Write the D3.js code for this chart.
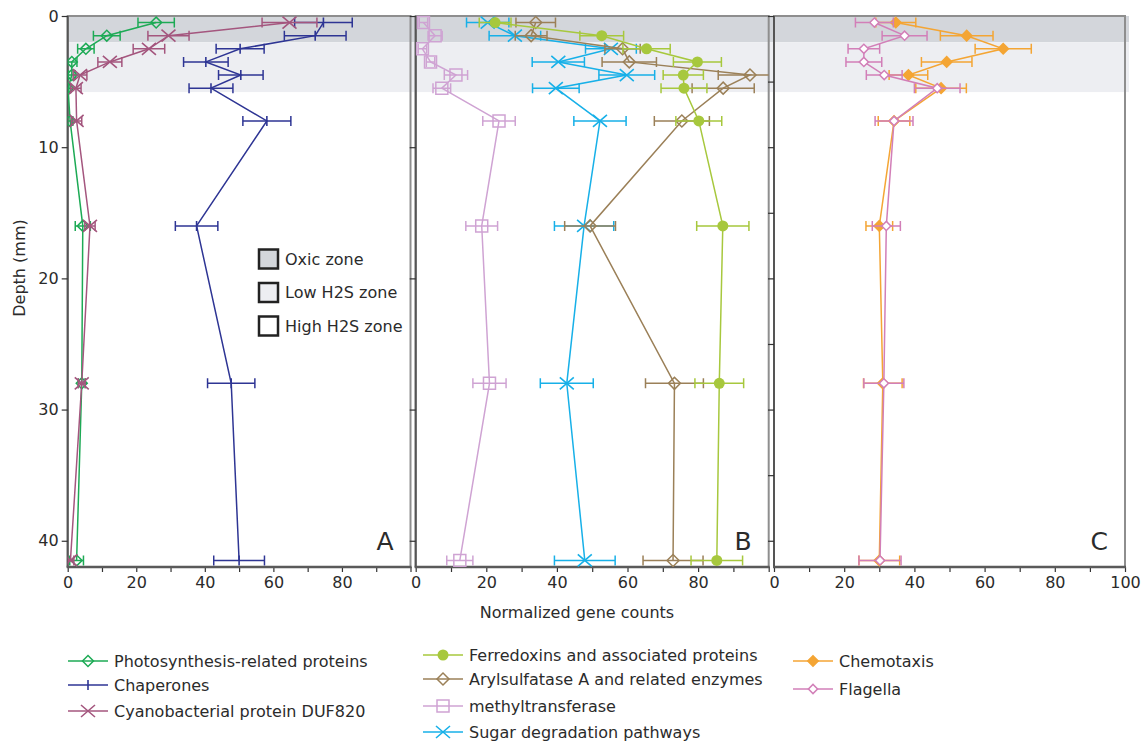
<!DOCTYPE html>
<html>
<head>
<meta charset="utf-8">
<style>
  body { margin: 0; background: #fff; }
  svg text { font-family: 'DejaVu Sans', Verdana, sans-serif; fill: #2b2b2b; }
</style>
</head>
<body>
<svg width="1142" height="748"></svg>
<script src="https://cdn.jsdelivr.net/npm/d3@7"></script>
<script>
// depth of each sample (mm)
const depths = [0.5, 1.5, 2.5, 3.5, 4.5, 5.5, 8, 16, 28, 41.5];

// panel A
const photoVals = [25.8, 11.4, 5.3, 1.2, 1.2, 0.1, 0.7, 4.4, 4.1, 2.6];
const photoErr  = [5.3, 3.9, 2.4, 1.5, 1.0, 0.6, 0.8, 2.2, 1.0, 2.0];
const chapVals  = [74.6, 72.2, 50.3, 40.3, 50.5, 41.8, 58.1, 37.6, 47.7, 50.0];
const chapErr   = [8.4, 9.0, 7.0, 6.5, 6.5, 6.4, 7.0, 6.2, 6.9, 7.4];
const dufVals   = [64.7, 29.4, 23.7, 12.3, 3.6, 2.4, 2.6, 6.5, 4.1, 0.8];
const dufErr    = [8.0, 6.0, 4.6, 3.5, 2.0, 1.5, 1.5, 1.5, 1.0, 1.0];

// panel B
const ferVals   = [22.5, 52.7, 65.4, 79.8, 75.8, 76.0, 80.2, 87.0, 86.0, 85.3];
const ferErr    = [4.5, 6.2, 6.7, 6.8, 5.7, 6.5, 6.5, 7.4, 6.9, 7.3];
const arylVals  = [34.0, 32.7, 58.6, 60.5, 94.7, 87.1, 75.4, 49.4, 73.3, 72.9];
const arylErr   = [5.6, 4.5, 5.0, 7.7, 9.0, 8.8, 7.8, 7.2, 8.2, 8.5];
const methVals  = [2.2, 5.5, 1.9, 4.2, 11.4, 7.4, 23.6, 18.7, 20.9, 12.5];
const methErr   = [1.2, 2.0, 1.2, 1.2, 3.3, 2.5, 4.6, 4.5, 4.7, 3.7];
const sugarVals = [20.4, 28.1, 55.3, 40.4, 59.8, 39.7, 52.2, 47.7, 42.8, 47.9];
const sugarErr  = [6.0, 7.3, 7.2, 7.4, 7.9, 6.6, 7.4, 8.4, 7.5, 8.6];

// panel C
const chemoVals = [34.7, 54.9, 65.3, 49.2, 38.3, 47.6, 34.2, 30.0, 31.0, 30.0];
const chemoErr  = [5.7, 7.5, 8.0, 7.2, 5.5, 7.2, 4.5, 3.8, 5.5, 5.8];
const flagVals  = [28.6, 37.2, 25.6, 25.6, 31.4, 46.5, 34.2, 32.0, 31.3, 30.2];
const flagErr   = [5.4, 6.4, 4.5, 5.1, 5.1, 6.5, 5.4, 4.0, 5.7, 6.0];

// zones (mm)
const zoneNames = ["Oxic zone", "Low H2S zone", "High H2S zone"];
const zoneEdges = [0, 2, 5.8];

const panels = [
  {key: "A", x0: 67.7, x1: 410.5, labels: [0, 20, 40, 60, 80], yTicks: [0, 10, 20, 30, 40]},
  {key: "B", x0: 415.7, x1: 768.7, labels: [0, 20, 40, 60, 80], yTicks: [0, 10, 20, 30, 40]},
  {key: "C", x0: 774, x1: 1125, labels: [0, 20, 40, 60, 80, 100], yTicks: [0, 5, 10, 15, 20, 25, 30, 35, 40]}
];

const series = [
  {name: "Photosynthesis-related proteins", panel: 0, vals: photoVals, err: photoErr, color: "#1daa55", mark: "diamond", size: 60, fill: "none"},
  {name: "Chaperones", panel: 0, vals: chapVals, err: chapErr, color: "#2e3594", mark: "plus"},
  {name: "Cyanobacterial protein DUF820", panel: 0, vals: dufVals, err: dufErr, color: "#a4567e", mark: "x"},
  {name: "methyltransferase", panel: 1, vals: methVals, err: methErr, color: "#cfa3d3", mark: "square", size: 144, fill: "none"},
  {name: "Sugar degradation pathways", panel: 1, vals: sugarVals, err: sugarErr, color: "#17b0e8", mark: "x"},
  {name: "Arylsulfatase A and related enzymes", panel: 1, vals: arylVals, err: arylErr, color: "#9b8058", mark: "diamond", size: 72, fill: "none"},
  {name: "Ferredoxins and associated proteins", panel: 1, vals: ferVals, err: ferErr, color: "#a7c83d", mark: "circle", size: 95},
  {name: "Chemotaxis", panel: 2, vals: chemoVals, err: chemoErr, color: "#f4a534", mark: "diamond", size: 55, fill: "fill"},
  {name: "Flagella", panel: 2, vals: flagVals, err: flagErr, color: "#d27fb8", mark: "diamond", size: 42, fill: "#fff"}
];

// legend columns (series indices per column)
const legendCols = [
  {x: 68, rows: [661, 685, 711], items: [0, 1, 2]},
  {x: 423, rows: [655, 679, 706, 732], items: [6, 5, 3, 4]},
  {x: 793, rows: [661, 689], items: [7, 8]}
];

const FS = 16;
const svg = d3.select("svg");
const y = d3.scaleLinear().domain([0, 42]).range([16, 567]);
panels.forEach(p => { p.x = d3.scaleLinear().domain([0, 100]).range([p.x0, p.x1]); });

// zone bands
const bandColors = ["#d3d6db", "#edeef2"];
svg.append("g").selectAll("rect")
  .data([0, 1]).enter().append("rect")
  .attr("x", panels[0].x0).attr("width", 1129 - panels[0].x0)
  .attr("y", i => y(zoneEdges[i]))
  .attr("height", i => y(zoneEdges[i + 1]) - y(zoneEdges[i]))
  .attr("fill", i => bandColors[i]);

// frames, axes
panels.forEach((p, i) => {
  const g = svg.append("g");
  g.append("rect")
    .attr("x", p.x0).attr("y", y(0)).attr("width", p.x1 - p.x0).attr("height", y(42) - y(0))
    .attr("fill", "none").attr("stroke", "#8e8e8e").attr("stroke-width", 2);
  g.append("line").attr("x1", p.x0).attr("x2", p.x0).attr("y1", y(0)).attr("y2", y(42))
    .attr("stroke", "#555").attr("stroke-width", 2);

  const xa = g.append("g").attr("transform", `translate(0,${y(42)})`)
    .call(d3.axisBottom(p.x).tickValues(d3.range(0, 101, 10)).tickSize(5).tickPadding(5)
      .tickFormat(d => p.labels.includes(d) ? d : ""));
  xa.select(".domain").remove();
  xa.selectAll("line").attr("stroke", "#333").attr("stroke-width", 1.2);
  xa.selectAll("text").attr("font-size", FS).attr("fill", "#333");

  const ya = g.append("g").attr("transform", `translate(${p.x0},0)`)
    .call(d3.axisLeft(y).tickValues(p.yTicks).tickSize(6).tickPadding(3)
      .tickFormat(d => i === 0 ? d : ""));
  ya.select(".domain").remove();
  ya.selectAll("line").attr("stroke", "#333").attr("stroke-width", 1.2);
  ya.selectAll("text").attr("font-size", FS).attr("fill", "#333");

  g.append("line").attr("x1", p.x0 - 1).attr("x2", p.x1 + 1).attr("y1", y(42)).attr("y2", y(42))
    .attr("stroke", "#5a5a5a").attr("stroke-width", 2.5);

  g.append("text").attr("x", p.x1 - 17).attr("y", 550).attr("text-anchor", "end")
    .attr("font-size", 25).text(p.key);

  svg.append("clipPath").attr("id", "clip" + i)
    .append("rect").attr("x", p.x0).attr("y", 0).attr("width", p.x1 - p.x0).attr("height", y(42));
});

// axis titles
svg.append("text").attr("x", 577).attr("y", 618).attr("text-anchor", "middle")
  .attr("font-size", FS).text("Normalized gene counts");
svg.append("text").attr("transform", "translate(25,268) rotate(-90)").attr("text-anchor", "middle")
  .attr("font-size", FS).text("Depth (mm)");

// zone legend
const zl = svg.append("g");
const zoneFill = [bandColors[0], bandColors[1], "#fff"];
zoneNames.forEach((n, i) => {
  const cy = 259 + i * 33.5;
  zl.append("rect").attr("x", 259).attr("y", cy - 9.5).attr("width", 19).attr("height", 19)
    .attr("fill", zoneFill[i]).attr("stroke", "#222").attr("stroke-width", 2.5);
  zl.append("text").attr("x", 285).attr("y", cy).attr("dominant-baseline", "central")
    .attr("font-size", FS).text(n);
});

function marker(g, s, cx, cy) {
  const c = s.color;
  if (s.mark === "diamond") {
    g.append("path").attr("d", d3.symbol().type(d3.symbolSquare).size(s.size)())
      .attr("transform", `translate(${cx},${cy}) rotate(45)`)
      .attr("fill", s.fill === "fill" ? c : s.fill).attr("stroke", c).attr("stroke-width", 1.5);
  } else if (s.mark === "square") {
    g.append("path").attr("d", d3.symbol().type(d3.symbolSquare).size(s.size)())
      .attr("transform", `translate(${cx},${cy})`)
      .attr("fill", "none").attr("stroke", c).attr("stroke-width", 1.5);
  } else if (s.mark === "circle") {
    g.append("path").attr("d", d3.symbol().type(d3.symbolCircle).size(s.size)())
      .attr("transform", `translate(${cx},${cy})`).attr("fill", c);
  } else if (s.mark === "x") {
    g.append("path").attr("d", `M${cx - 7},${cy - 6}L${cx + 7},${cy + 6}M${cx - 7},${cy + 6}L${cx + 7},${cy - 6}`)
      .attr("stroke", c).attr("stroke-width", 1.6).attr("fill", "none");
  } else if (s.mark === "plus") {
    g.append("path").attr("d", `M${cx},${cy - 5}L${cx},${cy + 5}`)
      .attr("stroke", c).attr("stroke-width", 1.6);
  }
}

// data
series.forEach(s => {
  const p = panels[s.panel];
  const g = svg.append("g").attr("clip-path", `url(#clip${s.panel})`);
  const pts = depths.map((d, i) => [p.x(s.vals[i]), y(d)]);
  g.append("path").attr("d", d3.line()(pts))
    .attr("fill", "none").attr("stroke", s.color).attr("stroke-width", 1.5);
  depths.forEach((d, i) => {
    const xl = p.x(s.vals[i] - s.err[i]), xr = p.x(s.vals[i] + s.err[i]), yy = y(d);
    g.append("path")
      .attr("d", `M${xl},${yy}L${xr},${yy}M${xl},${yy - 5}L${xl},${yy + 5}M${xr},${yy - 5}L${xr},${yy + 5}`)
      .attr("stroke", s.color).attr("stroke-width", 1.5).attr("fill", "none");
  });
  pts.forEach(pt => marker(g, s, pt[0], pt[1]));
});

// series legend
legendCols.forEach(col => {
  col.items.forEach((si, r) => {
    const s = series[si], cy = col.rows[r];
    const g = svg.append("g");
    g.append("line").attr("x1", col.x).attr("x2", col.x + 40).attr("y1", cy).attr("y2", cy)
      .attr("stroke", s.color).attr("stroke-width", 1.5);
    marker(g, s, col.x + 20, cy);
    g.append("text").attr("x", col.x + 46).attr("y", cy).attr("dominant-baseline", "central")
      .attr("font-size", FS).text(s.name);
  });
});
</script>
</body>
</html>
